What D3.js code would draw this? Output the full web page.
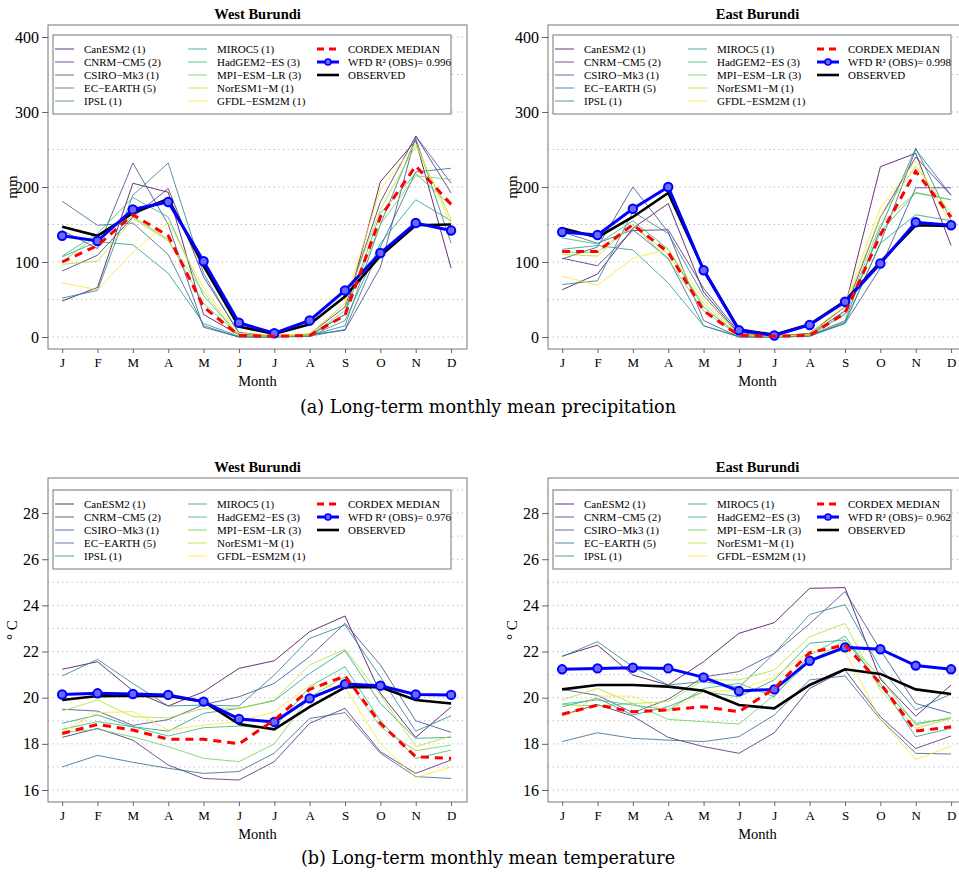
<!DOCTYPE html>
<html>
<head>
<meta charset="utf-8">
<script src="https://cdn.jsdelivr.net/npm/d3@7"></script>
<style>
  body { margin: 0; background: #fff; }
  svg { font-family: "Liberation Serif", "Times New Roman", serif; }
</style>
</head>
<body>
<svg id="fig" width="959" height="872"></svg>
<script>
// Month labels and model names
const months = ["J", "F", "M", "A", "M", "J", "J", "A", "S", "O", "N", "D"];
const modelNames = ["CanESM2 (1)", "CNRM\u2212CM5 (2)", "CSIRO\u2212Mk3 (1)", "EC\u2212EARTH (5)", "IPSL (1)",
                    "MIROC5 (1)", "HadGEM2\u2212ES (3)", "MPI\u2212ESM\u2212LR (3)", "NorESM1\u2212M (1)", "GFDL\u2212ESM2M (1)"];

// Precipitation, West Burundi (mm)
const precipWestModels = [
  [48, 66, 205, 193, 30, 3, 1, 2, 30, 207, 262, 92],
  [88, 109, 160, 198, 80, 6, 1, 4, 40, 180, 268, 192],
  [142, 118, 232, 150, 13, 0, 0, 3, 9, 93, 268, 205],
  [181, 149, 152, 110, 15, 0, 0, 1, 10, 120, 220, 225],
  [52, 62, 189, 232, 85, 4, 1, 2, 15, 150, 265, 125],
  [107, 127, 123, 85, 18, 1, 0, 1, 22, 125, 183, 155],
  [108, 138, 186, 160, 55, 2, 1, 3, 30, 165, 218, 175],
  [100, 136, 160, 130, 45, 2, 1, 2, 35, 150, 215, 210],
  [97, 101, 158, 128, 60, 2, 1, 3, 45, 170, 255, 157],
  [72, 63, 113, 153, 65, 5, 2, 4, 45, 197, 258, 150]
];
const precipWestMedian = [100, 122, 163, 135, 40, 2, 1, 2, 29, 160, 228, 177];
const precipWestWfd = [135, 128, 170, 180, 101, 19, 5, 22, 62, 112, 152, 142];
const precipWestObs = [147, 135, 165, 184, 95, 14, 4, 17, 54, 108, 149, 150];

// Precipitation, East Burundi (mm)
const precipEastModels = [
  [63, 84, 145, 178, 60, 4, 1, 5, 40, 227, 245, 122],
  [105, 95, 142, 143, 65, 6, 1, 3, 35, 160, 240, 189],
  [104, 120, 200, 140, 22, 0, 0, 2, 18, 92, 199, 199],
  [140, 125, 143, 105, 15, 0, 0, 1, 20, 125, 250, 189],
  [70, 75, 167, 138, 55, 3, 1, 2, 22, 145, 252, 155],
  [117, 122, 116, 72, 15, 1, 0, 1, 18, 125, 163, 155],
  [132, 124, 155, 117, 40, 2, 1, 2, 30, 140, 192, 183],
  [113, 113, 150, 103, 35, 2, 1, 2, 32, 150, 193, 183],
  [110, 108, 150, 110, 45, 2, 1, 3, 40, 160, 228, 165],
  [81, 69, 105, 117, 50, 4, 1, 4, 45, 172, 235, 150]
];
const precipEastMedian = [114, 114, 150, 113, 35, 2, 1, 2, 32, 136, 221, 160];
const precipEastWfd = [140, 136, 171, 200, 89, 9, 2, 16, 47, 98, 153, 149];
const precipEastObs = [145, 133, 160, 192, 90, 10, 3, 17, 48, 100, 149, 148];

// Temperature, West Burundi (deg C)
const tempWestModels = [
  [21.23, 21.56, 20.3, 19.64, 20.26, 21.27, 21.6, 22.86, 23.54, 20.2, 18.28, 19.6],
  [18.28, 18.67, 18.16, 17.08, 16.5, 16.43, 17.23, 18.89, 19.54, 17.66, 16.72, 17.3],
  [19.5, 19.42, 18.8, 19.05, 19.7, 20.04, 20.62, 21.78, 23.22, 21.42, 19.0, 18.5],
  [17.0, 17.5, 17.2, 16.94, 16.72, 16.8, 17.6, 19.1, 19.35, 17.59, 16.58, 16.5],
  [20.94, 21.66, 20.62, 19.64, 19.68, 19.64, 20.98, 22.57, 23.15, 20.9, 18.55, 19.22],
  [18.89, 19.25, 18.74, 18.55, 19.32, 19.54, 19.87, 21.05, 22.04, 19.75, 18.24, 18.28],
  [18.63, 18.96, 18.74, 18.34, 18.7, 18.77, 18.67, 20.48, 21.34, 19.0, 17.37, 17.73],
  [18.5, 18.63, 18.3, 17.88, 17.37, 17.23, 18.0, 20.04, 20.9, 18.74, 17.7, 17.95],
  [19.42, 19.9, 19.18, 19.12, 19.54, 19.54, 19.9, 21.42, 22.1, 20.12, 17.88, 18.34],
  [18.53, 19.35, 19.4, 18.6, 18.81, 18.96, 19.39, 20.55, 20.45, 18.0, 16.55, 17.0]
];
const tempWestMedian = [18.45, 18.84, 18.6, 18.2, 18.2, 18.0, 19.03, 20.36, 20.94, 18.89, 17.44, 17.37];
const tempWestWfd = [20.14, 20.19, 20.16, 20.12, 19.83, 19.08, 18.95, 19.97, 20.59, 20.52, 20.14, 20.12];
const tempWestObs = [19.9, 20.07, 20.09, 20.07, 19.83, 18.86, 18.63, 19.6, 20.45, 20.45, 19.9, 19.75];

// Temperature, East Burundi (deg C)
const tempEastModels = [
  [21.8, 22.28, 20.98, 20.55, 21.56, 22.79, 23.25, 24.74, 24.77, 20.8, 19.2, 20.55],
  [19.25, 19.7, 19.2, 18.28, 17.88, 17.59, 18.48, 20.4, 21.2, 19.18, 17.8, 18.34],
  [20.36, 20.1, 19.35, 19.93, 20.9, 21.13, 21.92, 23.2, 24.6, 22.07, 19.75, 19.32],
  [18.1, 18.48, 18.24, 18.16, 18.1, 18.31, 19.25, 20.77, 20.94, 19.06, 17.59, 17.56],
  [21.78, 22.43, 21.34, 20.55, 20.7, 20.45, 21.92, 23.61, 24.03, 21.27, 19.47, 20.16],
  [19.61, 19.97, 19.25, 19.61, 20.26, 20.04, 20.77, 22.36, 22.5, 20.62, 18.31, 18.67],
  [19.73, 19.9, 19.68, 19.47, 20.4, 20.62, 20.04, 21.85, 22.67, 20.48, 18.89, 19.1],
  [19.7, 19.64, 19.75, 19.06, 18.96, 18.86, 20.12, 21.56, 22.5, 20.9, 18.81, 19.15],
  [19.9, 20.4, 19.75, 19.83, 20.77, 20.77, 21.2, 22.64, 23.22, 20.33, 18.67, 19.1],
  [19.15, 20.07, 20.07, 19.39, 20.26, 20.33, 20.9, 22.0, 22.0, 19.06, 17.33, 17.9]
];
const tempEastMedian = [19.28, 19.68, 19.39, 19.47, 19.61, 19.39, 20.4, 21.95, 22.28, 20.62, 18.55, 18.74];
const tempEastWfd = [21.23, 21.27, 21.3, 21.27, 20.88, 20.29, 20.36, 21.6, 22.18, 22.1, 21.39, 21.23];
const tempEastObs = [20.36, 20.55, 20.55, 20.48, 20.3, 19.68, 19.54, 20.55, 21.23, 21.03, 20.36, 20.16];

const precipTicks = [0, 100, 200, 300, 400];
const tempTicks = [16, 18, 20, 22, 24, 26, 28];

const modelColors = modelNames.map((d, i) => d3.interpolateViridis(i / 9));

const svg = d3.select("#fig");
const boxW = 419, boxH = 324;

function drawPanel(left, top, opts) {
  const g = svg.append("g").attr("transform", `translate(${left},${top})`);

  const x = d3.scaleLinear().domain([0.6, 12.45]).range([0, boxW]);
  const y = d3.scaleLinear().domain(opts.yDomain).range([boxH, 0]);

  // dotted grid
  g.selectAll(".grid")
    .data(opts.grid)
    .enter()
    .append("line")
    .attr("x1", 0).attr("x2", boxW)
    .attr("y1", d => y(d)).attr("y2", d => y(d))
    .attr("stroke", "#b5b5b5")
    .attr("stroke-width", 1)
    .attr("stroke-dasharray", "1.2,3.5");

  const line = d3.line().x((d, i) => x(i + 1)).y(d => y(d));

  // model lines
  g.selectAll(".model")
    .data(opts.models)
    .enter()
    .append("path")
    .attr("d", d => line(d))
    .attr("fill", "none")
    .attr("stroke", (d, i) => modelColors[i])
    .attr("stroke-opacity", 0.8)
    .attr("stroke-width", 1);

  g.append("path").attr("d", line(opts.obs))
    .attr("fill", "none").attr("stroke", "#000").attr("stroke-width", 2.6);

  g.append("path").attr("d", line(opts.wfd))
    .attr("fill", "none").attr("stroke", "#0000ff").attr("stroke-width", 3);
  g.selectAll(".wfdpt")
    .data(opts.wfd)
    .enter()
    .append("circle")
    .attr("cx", (d, i) => x(i + 1)).attr("cy", d => y(d))
    .attr("r", 4.2)
    .attr("fill", "#6a6aff")
    .attr("stroke", "#0000ff").attr("stroke-width", 2);

  g.append("path").attr("d", line(opts.median))
    .attr("fill", "none").attr("stroke", "#ff0000").attr("stroke-width", 3)
    .attr("stroke-dasharray", "8,6");

  // frame
  g.append("rect").attr("width", boxW).attr("height", boxH)
    .attr("fill", "none").attr("stroke", "#777").attr("stroke-width", 1);

  // axes
  const yAxis = g.append("g")
    .call(d3.axisLeft(y).tickValues(opts.ticks).tickSize(6).tickPadding(3));
  yAxis.select(".domain").remove();
  yAxis.selectAll("line").attr("stroke", "#666");
  yAxis.selectAll("text").attr("font-size", 16).attr("font-family", "Liberation Serif").attr("fill", "#000");

  const xAxis = g.append("g")
    .attr("transform", `translate(0,${boxH})`)
    .call(d3.axisBottom(x).tickValues(d3.range(1, 13)).tickFormat(d => months[d - 1]).tickSize(4).tickPadding(5));
  xAxis.select(".domain").remove();
  xAxis.selectAll("line").attr("stroke", "#666");
  xAxis.selectAll("text").attr("font-size", 13).attr("font-family", "Liberation Serif").attr("fill", "#000");

  g.append("text")
    .attr("x", boxW / 2).attr("y", boxH + 37)
    .attr("text-anchor", "middle").attr("font-size", 14.5)
    .text("Month");

  g.append("text")
    .attr("transform", `translate(${-31},${opts.yLabelY}) rotate(-90)`)
    .attr("text-anchor", "middle").attr("font-size", 15)
    .text(opts.yLabel);

  g.append("text")
    .attr("x", boxW / 2).attr("y", -6)
    .attr("text-anchor", "middle").attr("font-size", 14.5).attr("font-weight", "bold")
    .text(opts.title);

  // legend
  const lg = g.append("g").attr("transform", `translate(5,${opts.legendTop})`);
  lg.append("rect").attr("width", 398).attr("height", 79)
    .attr("fill", "#fff").attr("stroke", "#777").attr("stroke-width", 1);

  modelNames.forEach((name, i) => {
    const col = Math.floor(i / 5), row = i % 5;
    const lx = col === 0 ? 2 : 135;
    const ly = 14 + row * 13;
    lg.append("line").attr("x1", lx).attr("x2", lx + 19).attr("y1", ly).attr("y2", ly)
      .attr("stroke", modelColors[i]).attr("stroke-opacity", 0.8).attr("stroke-width", 1);
    lg.append("text").attr("x", lx + 29).attr("y", ly + 4).attr("font-size", 11).text(name);
  });

  const extra = [
    { name: "CORDEX MEDIAN", color: "#ff0000", dash: "7,5", width: 3, dot: false },
    { name: `WFD R\u00b2 (OBS)= ${opts.r2}`, color: "#0000ff", dash: null, width: 3, dot: true },
    { name: "OBSERVED", color: "#000", dash: null, width: 2.6, dot: false }
  ];
  extra.forEach((e, i) => {
    const ly = 14 + i * 13;
    lg.append("line").attr("x1", 264).attr("x2", 286).attr("y1", ly).attr("y2", ly)
      .attr("stroke", e.color).attr("stroke-width", e.width)
      .attr("stroke-dasharray", e.dash);
    if (e.dot) {
      lg.append("circle").attr("cx", 275).attr("cy", ly).attr("r", 3)
        .attr("fill", "#6a6aff").attr("stroke", e.color).attr("stroke-width", 1.6);
    }
    lg.append("text").attr("x", 295).attr("y", ly + 4).attr("font-size", 11).text(e.name);
  });
}

const precipGrid = d3.range(0, 401, 50);
const tempGrid = d3.range(16, 30, 1);

drawPanel(48, 25, { title: "West Burundi", models: precipWestModels, median: precipWestMedian,
  wfd: precipWestWfd, obs: precipWestObs, r2: "0.996", yDomain: [-16, 416], ticks: precipTicks,
  grid: precipGrid, yLabel: "mm", yLabelY: 162, legendTop: 10 });
drawPanel(548, 25, { title: "East Burundi", models: precipEastModels, median: precipEastMedian,
  wfd: precipEastWfd, obs: precipEastObs, r2: "0.998", yDomain: [-16, 416], ticks: precipTicks,
  grid: precipGrid, yLabel: "mm", yLabelY: 162, legendTop: 10 });
drawPanel(48, 478, { title: "West Burundi", models: tempWestModels, median: tempWestMedian,
  wfd: tempWestWfd, obs: tempWestObs, r2: "0.976", yDomain: [15.48, 29.52], ticks: tempTicks,
  grid: tempGrid, yLabel: "\u00b0 C", yLabelY: 152, legendTop: 12 });
drawPanel(548, 478, { title: "East Burundi", models: tempEastModels, median: tempEastMedian,
  wfd: tempEastWfd, obs: tempEastObs, r2: "0.962", yDomain: [15.48, 29.52], ticks: tempTicks,
  grid: tempGrid, yLabel: "\u00b0 C", yLabelY: 152, legendTop: 12 });

// sub-captions
const captions = [
  { text: "(a) Long-term monthly mean precipitation", y: 413 },
  { text: "(b) Long-term monthly mean temperature", y: 864 }
];
captions.forEach(c => {
  svg.append("text")
    .attr("x", 488).attr("y", c.y)
    .attr("text-anchor", "middle")
    .attr("font-family", "DejaVu Serif")
    .attr("font-size", 17.6)
    .text(c.text);
});
</script>
</body>
</html>
